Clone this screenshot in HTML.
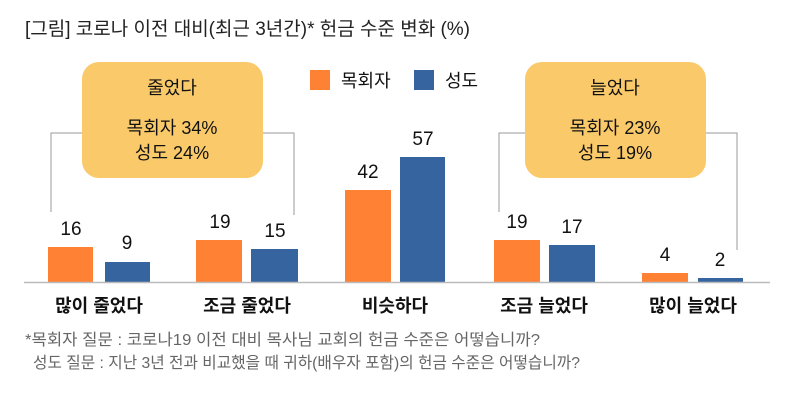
<!DOCTYPE html>
<html><head><meta charset="utf-8"><style>
body{margin:0;background:#fff;width:790px;height:406px;overflow:hidden;font-family:"Liberation Sans","Noto Sans CJK KR",sans-serif;}
svg text{font-family:"Liberation Sans","Noto Sans CJK KR",sans-serif;}
</style></head><body>
<svg width="790" height="406" xmlns="http://www.w3.org/2000/svg">
<text x="25" y="35" font-size="19" fill="#222" textLength="445" lengthAdjust="spacingAndGlyphs">[그림] 코로나 이전 대비(최근 3년간)* 헌금 수준 변화 (%)</text>
<g stroke="#999" fill="none" stroke-width="1">
<polyline points="51,212 51,133 294,133 294,215"/>
<polyline points="499,212 499,133 737,133 737,250"/>
</g>
<rect x="82" y="62" width="181" height="116" rx="17" fill="#f9c96a"/>
<rect x="525" y="62" width="181" height="116" rx="17" fill="#f9c96a"/>
<g font-size="18" fill="#111" text-anchor="middle">
<text x="172" y="94">줄었다</text>
<text x="172" y="134">목회자 34%</text>
<text x="172" y="159">성도 24%</text>
<text x="615" y="94">늘었다</text>
<text x="615" y="134">목회자 23%</text>
<text x="615" y="159">성도 19%</text>
</g>
<rect x="310" y="70" width="20" height="20" fill="#fe8134"/>
<text x="341" y="87" font-size="18" fill="#111">목회자</text>
<rect x="414" y="70" width="20" height="20" fill="#36649e"/>
<text x="445" y="87" font-size="18" fill="#111">성도</text>
<g fill="#fe8134">
<rect x="48" y="247" width="45" height="35"/>
<rect x="196" y="240" width="46" height="42"/>
<rect x="345" y="190" width="46" height="92"/>
<rect x="494" y="240" width="46" height="42"/>
<rect x="642" y="273" width="46" height="9"/>
</g>
<g fill="#36649e">
<rect x="105" y="262" width="45" height="20"/>
<rect x="251" y="249" width="47" height="33"/>
<rect x="400" y="157" width="45" height="125"/>
<rect x="549" y="245" width="46" height="37"/>
<rect x="698" y="278" width="45" height="4"/>
</g>
<line x1="24" y1="282.5" x2="770" y2="282.5" stroke="#bbb" stroke-width="1.5"/>
<g font-size="19" fill="#111" text-anchor="middle">
<text x="71" y="235">16</text><text x="127" y="249">9</text>
<text x="220" y="228">19</text><text x="275" y="237">15</text>
<text x="368" y="178">42</text><text x="423" y="145">57</text>
<text x="517" y="228">19</text><text x="572" y="233">17</text>
<text x="665" y="261">4</text><text x="720" y="266">2</text>
</g>
<g font-size="18" fill="#111" text-anchor="middle" font-weight="bold">
<text x="99" y="312">많이 줄었다</text>
<text x="247" y="312">조금 줄었다</text>
<text x="395" y="312">비슷하다</text>
<text x="544" y="312">조금 늘었다</text>
<text x="693" y="312">많이 늘었다</text>
</g>
<g font-size="16" fill="#666">
<text x="25" y="345" textLength="515" lengthAdjust="spacingAndGlyphs">*목회자 질문 : 코로나19 이전 대비 목사님 교회의 헌금 수준은 어떻습니까?</text>
<text x="33" y="368" textLength="547" lengthAdjust="spacingAndGlyphs">성도 질문 : 지난 3년 전과 비교했을 때 귀하(배우자 포함)의 헌금 수준은 어떻습니까?</text>
</g>
</svg>
</body></html>
